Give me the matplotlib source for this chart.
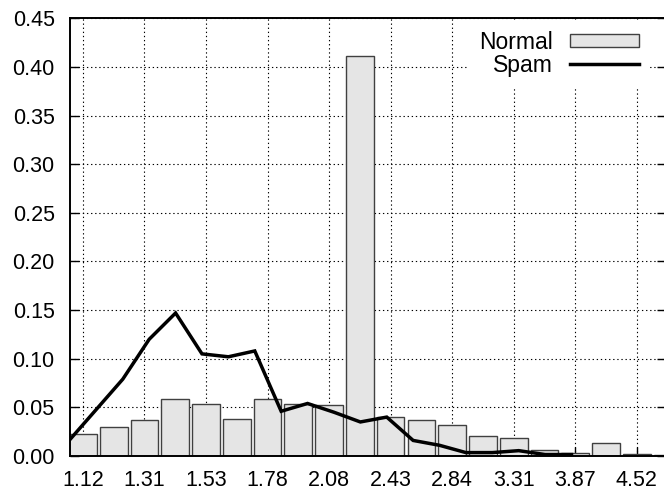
import numpy as np
import matplotlib
matplotlib.use("Agg")
import matplotlib.pyplot as plt
from matplotlib.patches import Patch
from matplotlib.lines import Line2D

plt.rcParams['font.family'] = ['Liberation Sans', 'DejaVu Sans']
plt.rcParams['font.size'] = 15

# tick labels (one label every other bar)
tick_labels = ['1.12', '1.31', '1.53', '1.78', '2.08', '2.43', '2.84', '3.31', '3.87', '4.52']

# Normal histogram (bars)
normal = [0.023, 0.030, 0.037, 0.059, 0.053, 0.038, 0.059, 0.053, 0.052, 0.411,
          0.040, 0.037, 0.032, 0.021, 0.019, 0.006, 0.003, 0.013, 0.0025, 0.0015]

# Spam curve (plotted on its own index scale)
spam = [0.017, 0.048, 0.079, 0.120, 0.147, 0.105, 0.102, 0.108, 0.046, 0.054,
        0.045, 0.035, 0.040, 0.016, 0.011, 0.0035, 0.0035, 0.0055, 0.0015, 0.0015]

W, H = 664, 492
fig = plt.figure(figsize=(W / 100, H / 100), dpi=100)
ax = fig.add_axes([70 / W, 36 / H, 596 / W, 437.7 / H])

xb = np.arange(len(normal))
ax.bar(xb, normal, width=0.9, color='#e5e5e5', edgecolor='#404040', linewidth=1.0, zorder=2)
ax.set_xlim(-0.42, 18.95)
ax.set_ylim(0, 0.45)
ax.set_xticks(xb[::2])
ax.set_xticklabels(tick_labels)
ax.set_yticks(np.arange(0, 0.451, 0.05))
ax.yaxis.set_major_formatter(matplotlib.ticker.FormatStrFormatter('%.2f'))
ax.tick_params(direction='in', length=6.5, width=1.0, top=True, right=True,
               colors='black', labelsize=15.5)
ax.tick_params(axis='y', pad=11)
ax.tick_params(axis='x', pad=10)
ax.grid(True, color='black', linestyle=(0, (1.2, 2.5)), linewidth=0.8)
ax.set_axisbelow(True)
for s in ax.spines.values():
    s.set_linewidth(1.4)

# spam line on a twin x scale
ax2 = ax.twiny()
ax2.plot(np.arange(len(spam)), spam, color='black', linewidth=2.5, zorder=3,
         solid_joinstyle='miter')
ax2.set_xlim(0, 22.58)
ax2.set_ylim(0, 0.45)
ax2.set_xticks([])
for s in ax2.spines.values():
    s.set_visible(False)

handles = [Patch(facecolor='#e5e5e5', edgecolor='#404040', linewidth=1.0),
           Line2D([], [], color='black', linewidth=2.5)]
leg = ax2.legend(handles, ['Normal', 'Spam'], loc='upper right',
                 bbox_to_anchor=(0.972, 0.995), markerfirst=False,
                 handlelength=3.0, handleheight=0.5, handletextpad=0.75,
                 labelspacing=0.0, borderpad=0.45, borderaxespad=0,
                 fancybox=False, framealpha=1, fontsize=16.5)
leg.get_frame().set_edgecolor('none')
leg.get_frame().set_facecolor('white')

fig.savefig('out.png', dpi=100)
